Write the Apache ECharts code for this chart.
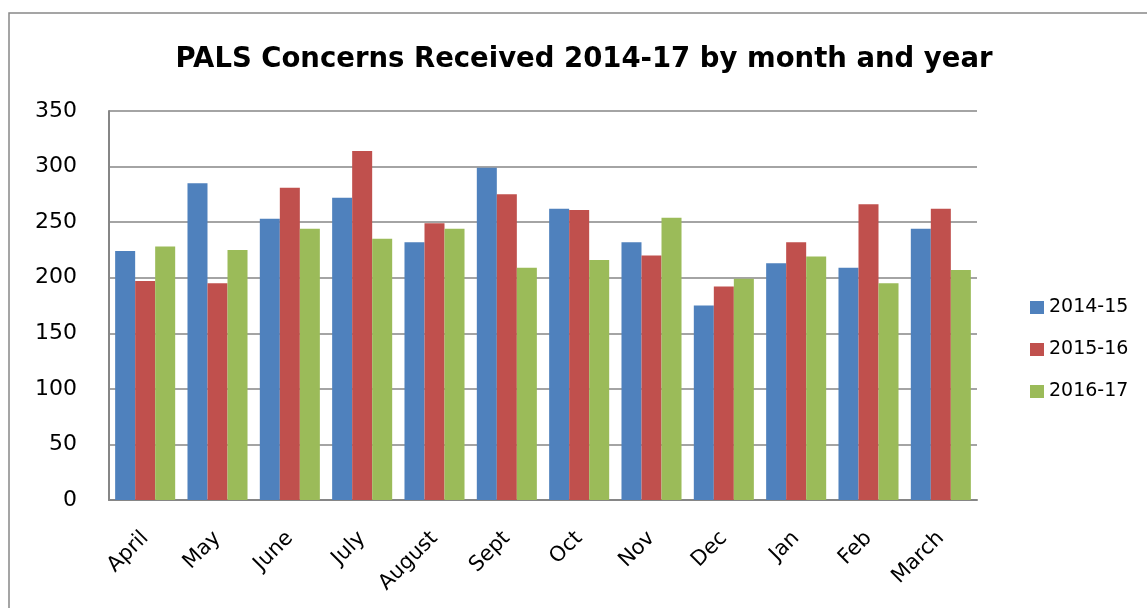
<!DOCTYPE html>
<html>
<head>
<meta charset="utf-8">
<script src="https://cdn.jsdelivr.net/npm/echarts@6/dist/echarts.min.js"></script>
<style>
html,body{margin:0;padding:0;background:#fff;}
#c{width:1147px;height:608px;}
</style>
</head>
<body>
<div id="c"></div>
<script>
const months = ['April','May','June','July','August','Sept','Oct','Nov','Dec','Jan','Feb','March'];
const seriesNames = ['2014-15','2015-16','2016-17'];
const y2014 = [224,285,253,272,232,299,262,232,175,213,209,244];
const y2015 = [197,195,281,314,249,275,261,220,192,232,266,262];
const y2016 = [228,225,244,235,244,209,216,254,199,219,195,207];
const yTicks = [0,50,100,150,200,250,300,350];
const colors = ['#4F81BD','#C0504D','#9BBB59'];

const chart = echarts.init(document.getElementById('c'));
const font = '"DejaVu Sans", sans-serif';
const mk = (name, data, i) => ({
  name, type:'bar', data,
  itemStyle:{color:colors[i]},
  barGap:'0%', barCategoryGap:'17%'
});
chart.setOption({
  animation:false,
  backgroundColor:'#fff',
  title:{
    text:'PALS Concerns Received 2014-17 by month and year',
    left:579, top:41, textAlign:'center',
    textStyle:{fontFamily:font, fontWeight:'bold', fontSize:27.5, color:'#000'}
  },
  legend:{
    orient:'vertical', left:1025, top:293,
    itemWidth:14, itemHeight:13, itemGap:23,
    icon:'rect',
    textStyle:{fontFamily:font, fontSize:19, color:'#000'},
    data:seriesNames
  },
  grid:{left:109, right:170, top:111, bottom:108, containLabel:false},
  xAxis:{
    type:'category', data:months,
    axisLine:{lineStyle:{color:'#868686', width:2}},
    axisTick:{show:false},
    axisLabel:{rotate:45, margin:35, fontFamily:font, fontSize:21, color:'#000', interval:0}
  },
  yAxis:{
    type:'value', min:yTicks[0], max:yTicks[yTicks.length-1], interval:50,
    axisLine:{show:true, lineStyle:{color:'#868686', width:2}},
    axisTick:{show:false},
    splitLine:{lineStyle:{color:'#868686', width:1.5}},
    axisLabel:{margin:32, fontFamily:font, fontSize:22, color:'#000'}
  },
  graphic:[{
    type:'rect', shape:{x:9, y:13, width:1300, height:800},
    style:{fill:'none', stroke:'#888', lineWidth:1.5}, z:-1
  }],
  series:[mk(seriesNames[0], y2014, 0), mk(seriesNames[1], y2015, 1), mk(seriesNames[2], y2016, 2)]
});
</script>
</body>
</html>
